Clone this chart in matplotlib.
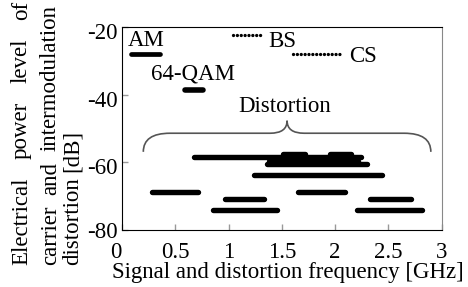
import matplotlib
matplotlib.use("Agg")
import matplotlib.pyplot as plt
from matplotlib.path import Path
from matplotlib.patches import PathPatch
from matplotlib.transforms import ScaledTranslation

# carrier signals: level [dB], occupied band [GHz]
signal_names = ["AM", "64-QAM", "BS", "CS"]
signal_level = [-28.1, -38.7, -22.4, -28.1]
signal_start = [0.08, 0.59, 1.04, 1.61]
signal_stop = [0.36, 0.76, 1.31, 2.05]

# intermodulation distortion bands
dist_level = [-58.5, -57.4, -57.4, -59.5, -60.6, -63.7, -68.7, -68.7, -70.7, -70.7, -74.0, -74.0]
dist_start = [0.68, 1.51, 1.95, 1.38, 1.36, 1.24, 0.28, 1.65, 0.97, 2.33, 0.85, 2.21]
dist_stop = [2.24, 1.72, 2.15, 2.22, 2.30, 2.44, 0.71, 2.09, 1.33, 2.71, 1.46, 2.82]

xticks = [0, 0.5, 1, 1.5, 2, 2.5, 3]
xtick_labels = ["0", "0.5", "1", "1.5", "2", "2.5", "3"]
yticks = [-80, -60, -40, -20]

W, H = 468, 287
FS = 16.5
plt.rcParams["font.family"] = ["Liberation Serif", "DejaVu Serif"]
plt.rcParams["font.size"] = FS
plt.rcParams["axes.unicode_minus"] = False

fig = plt.figure(figsize=(W / 100, H / 100), dpi=100)
ax = fig.add_axes([122 / W, 1 - 230 / H, (441.5 - 122) / W, (230 - 27) / H])

for name, y, x0, x1 in zip(signal_names, signal_level, signal_start, signal_stop):
    if name in ("BS", "CS"):
        ax.plot([x0, x1], [y, y], color="black", lw=2.4, ls=(0, (0.01, 1.15)),
                dash_capstyle="round")
    else:
        ax.plot([x0, x1], [y, y], color="black", lw=3.4 if name == "AM" else 4.0,
                solid_capstyle="round")

for y, x0, x1 in zip(dist_level, dist_start, dist_stop):
    ax.plot([x0, x1], [y, y], color="black", lw=3.9, solid_capstyle="round")

# labels inside the plot
ax.text(0.056, -25.7, "AM", ha="left", va="baseline")
ax.text(0.273, -35.5, "64-QAM", ha="left", va="baseline")
ax.text(1.373, -26.0, "BS", ha="left", va="baseline")
ax.text(2.135, -30.4, "CS", ha="left", va="baseline")
ax.text(1.09, -45.1, "Distortion", ha="left", va="baseline")

# curly brace over the distortion products
yb, ye, tip = -51.4, -56.9, -47.7
verts = [(0.20, ye), (0.20, yb), (0.45, yb), (1.39, yb), (1.55, yb), (1.55, tip),
         (1.55, yb), (1.71, yb), (2.65, yb), (2.90, yb), (2.90, ye)]
codes = [Path.MOVETO, Path.CURVE3, Path.CURVE3, Path.LINETO, Path.CURVE3, Path.CURVE3,
         Path.CURVE3, Path.CURVE3, Path.LINETO, Path.CURVE3, Path.CURVE3]
ax.add_patch(PathPatch(Path(verts, codes), fill=False, ec="#555555", lw=1.2))

ax.set_xlim(0, 3)
ax.set_ylim(-80, -20)
ax.set_xticks(xticks)
ax.set_xticklabels(xtick_labels)
ax.set_yticks(yticks)
ax.tick_params(direction="in", length=4, width=1, color="#999999", labelsize=FS)
ax.tick_params(axis="x", pad=9)
ax.tick_params(axis="y", pad=3)
for side in ("left", "bottom", "top"):
    ax.spines[side].set_color("black")
ax.spines["right"].set_color("#888888")

for lab in ax.get_yticklabels()[1:]:
    lab.set_transform(lab.get_transform() + ScaledTranslation(0, -4 / 100, fig.dpi_scale_trans))
xl = ax.get_xticklabels()
xl[0].set_transform(xl[0].get_transform() + ScaledTranslation(-6 / 100, 0, fig.dpi_scale_trans))

fig.text(288 / W, 1 - 278 / H, "Signal and distortion frequency [GHz]", ha="center",
         va="baseline")

# justified, rotated y label (three lines)
renderer = fig.canvas.get_renderer()


def word_len(w):
    t = fig.text(0, 0, w)
    n = t.get_window_extent(renderer).width
    t.remove()
    return n


def vline(words, xb, ybot, ytop=None):
    lens = [word_len(w) for w in words]
    if ytop is None:
        gap = word_len("a a") - word_len("aa")
    else:
        gap = (ybot - ytop - sum(lens)) / (len(words) - 1)
    y = ybot
    for w, n in zip(words, lens):
        fig.text(xb / W, 1 - y / H, w, rotation=90, rotation_mode="anchor",
                 ha="left", va="baseline")
        y -= n + gap


vline(["Electrical", "power", "level", "of"], 27, 265, 1)
vline(["carrier", "and", "intermodulation"], 56, 265, 5)
vline(["distortion", "[dB]"], 78, 265)

fig.savefig("out.png", dpi=100)
